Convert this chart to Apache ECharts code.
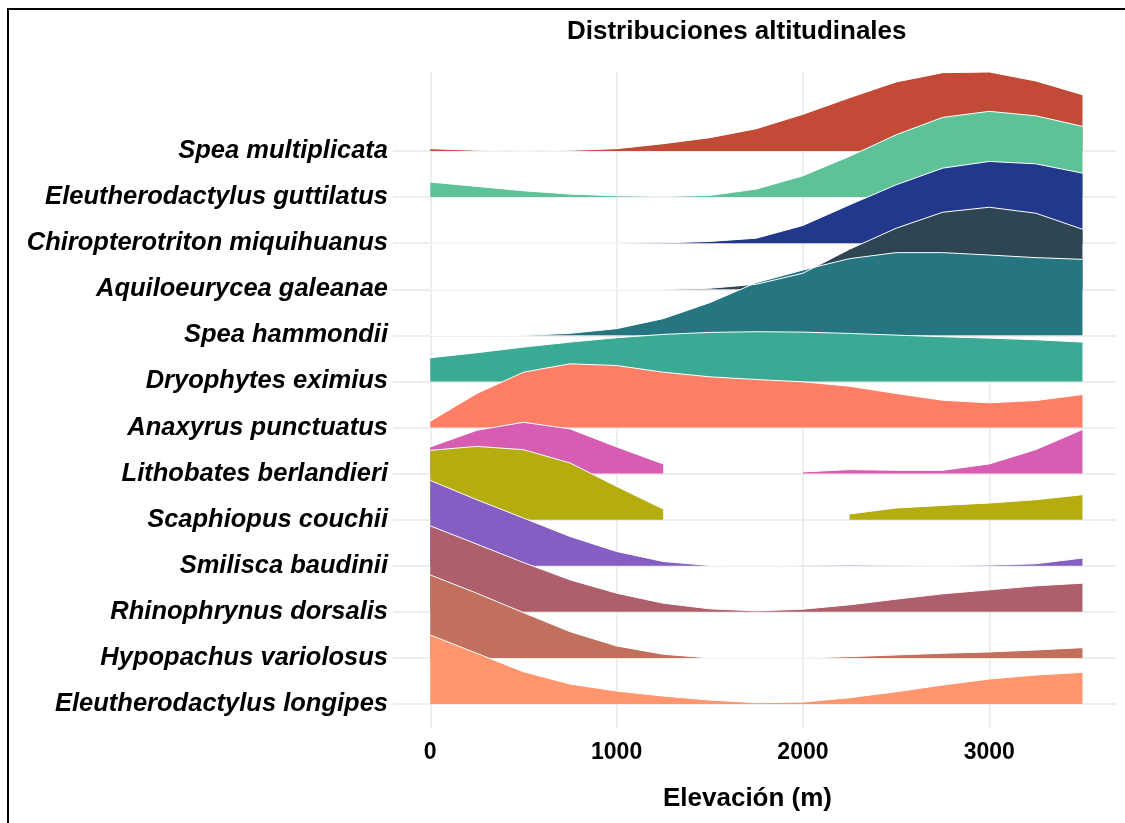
<!DOCTYPE html>
<html><head><meta charset="utf-8">
<script src="https://cdn.jsdelivr.net/npm/echarts@6/dist/echarts.min.js"></script>
<style>html,body{margin:0;padding:0;background:#fff}#c{width:1125px;height:823px}</style>
</head><body><div id="c"></div>
<script>
// Elevation grid (m)
const elevation = [0,250,500,750,1000,1250,1500,1750,2000,2250,2500,2750,3000,3250,3500];
const xTicks = [0,1000,2000,3000];

// Species (top to bottom)
const species = [
  'Spea multiplicata','Eleutherodactylus guttilatus','Chiropterotriton miquihuanus',
  'Aquiloeurycea galeanae','Spea hammondii','Dryophytes eximius','Anaxyrus punctuatus',
  'Lithobates berlandieri','Scaphiopus couchii','Smilisca baudinii','Rhinophrynus dorsalis',
  'Hypopachus variolosus','Eleutherodactylus longipes'
];
const colors = ['#c24a36','#5ec298','#22388c','#2e4553','#267682','#3aaa95','#ff7f66',
  '#d65db1','#b5ad10','#845ec2','#ae5f6b','#c1705d','#ff966e'];

// Relative densities (scaled), null = no data
const dSpeaMultiplicata   = [2.3,0.7,0,0.7,2.3,7.3,13.3,22.3,36.7,53.3,69,78.3,79,70,56.3];
const dEleuGuttilatus     = [15,10.7,6.3,3,1.3,0.7,1.7,8,21.3,40.7,62.3,79.7,85.7,81.3,70.7];
const dChiropterotriton   = [0,0,0,0,0,0.3,1.7,5,17.7,38.3,58.3,75,81.7,79.3,70];
const dAquiloeurycea      = [0,0,0,0,0,0,1,5,16,40,61,77,82,76,60];
const dSpeaHammondii      = [0,0,0,2,6.7,16.7,32.7,52.7,65.3,76.7,82.7,82.7,80.3,77.7,76];
const dDryophytes         = [23.7,28.7,34.3,39.3,43.7,47,49,49.7,49.3,48,46.3,44.7,43.3,41.7,39.3];
const dAnaxyrus           = [6.3,34,55.3,63.7,62,55.3,50.7,48,45.7,41.3,34,27.3,24.7,27,33];
const dLithobates         = [26.7,43.3,51.3,44.7,26.7,9.7,null,null,1.7,4,3.3,3.3,9.7,24,44];
const dScaphiopus         = [69.3,73.3,70,56.7,33.3,10.7,null,null,null,5.7,11.7,14.3,16.7,20,25];
const dSmilisca           = [85.3,66,47.7,29.3,14.3,4.3,0.3,0,0.5,0.7,0.5,0.3,0.7,2,7.7];
const dRhinophrynus       = [86,67.7,49.3,32,18.7,8.7,3,1,2.7,7,12.7,18,22,26,28.7];
const dHypopachus         = [83,64.7,45.3,26.3,12,3.7,0,0,0,1.3,3,4.7,6,8,10.3];
const dEleuLongipes       = [69,50.7,32.3,20,13,8,4,1.3,2,6.3,12.3,19,25,29,31.7];

const densities = [dSpeaMultiplicata,dEleuGuttilatus,dChiropterotriton,dAquiloeurycea,
  dSpeaHammondii,dDryophytes,dAnaxyrus,dLithobates,dScaphiopus,dSmilisca,dRhinophrynus,
  dHypopachus,dEleuLongipes];

const ridgeScale = 46.08; // density units per row
const n = species.length;
const rowValues = species.map((s,i)=>i);

const FONT = '"Liberation Sans", Arial, sans-serif';

const series = species.map((name,i)=>{
  const base = n-1-i;
  const d = densities[i];
  return {
    type:'line', name,
    data: elevation.map((x,k)=> d[k]==null ? [x,'-'] : [x, base + d[k]/ridgeScale]),
    symbol:'none', showSymbol:false, connectNulls:false, silent:true,
    lineStyle:{color:'#ffffff', width:1},
    areaStyle:{color:colors[i], opacity:1, origin:base},
    z:2
  };
});

const chart = echarts.init(document.getElementById('c'), null, {renderer:'canvas'});
chart.setOption({
  animation:false,
  backgroundColor:'#ffffff',
  grid:{left:393, right:9, top:72, bottom:95, containLabel:false},
  xAxis:{
    type:'value', min:-200, max:3680,
    name:'Elevación (m)', nameLocation:'middle', nameGap:58,
    nameTextStyle:{fontFamily:FONT, fontWeight:'bold', fontSize:26, color:'#000', padding:[0,14,0,0]},
    axisLine:{show:false},
    axisTick:{show:false, customValues:xTicks},
    axisLabel:{customValues:xTicks, fontFamily:FONT, fontWeight:'bold', fontSize:23, color:'#000', margin:13,
      formatter:(v)=>String(v)},
    splitLine:{show:true, lineStyle:{color:'#e8e8e8', width:1.5}}
  },
  yAxis:{
    type:'value', min:-0.52, max:13.714,
    axisLine:{show:false},
    axisTick:{show:false, customValues:rowValues},
    axisLabel:{customValues:rowValues, fontFamily:FONT, fontWeight:'bold', fontStyle:'italic',
      fontSize:25.5, color:'#000', margin:5,
      formatter:(v)=>species[n-1-Math.round(v)]},
    splitLine:{show:true, lineStyle:{color:'#e8e8e8', width:1.5}}
  },
  graphic:[
    {type:'text', left:567, top:19, style:{text:'Distribuciones altitudinales', font:'bold 26px '+FONT, fill:'#000'}},
    {type:'rect', shape:{x:8, y:9, width:1140, height:840}, style:{fill:null, stroke:'#000', lineWidth:2}, z:100}
  ],
  series
});
</script></body></html>
